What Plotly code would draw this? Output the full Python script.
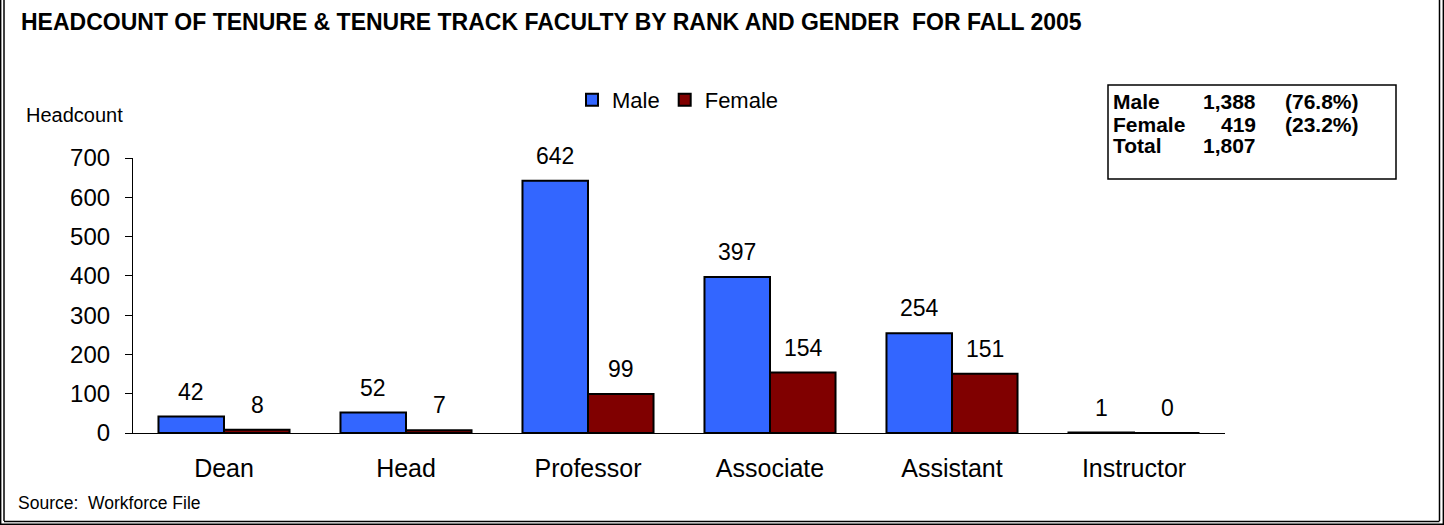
import plotly.graph_objects as go

categories = ["Dean", "Head", "Professor", "Associate", "Assistant", "Instructor"]
male = [42, 52, 642, 397, 254, 1]
female = [8, 7, 99, 154, 151, 0]
y_ticks = [0, 100, 200, 300, 400, 500, 600, 700]

summary_rows = [
    ("Male", "1,388", "(76.8%)"),
    ("Female", "419", "(23.2%)"),
    ("Total", "1,807", ""),
]

W, H = 1444, 525
L, R, T, B = 133, 219, 158, 92
PW, PH = W - L - R, H - T - B

def px(x):
    return (x - L) / PW

def py(y):
    return (H - B - y) / PH

FONT = "Liberation Sans, Arial, sans-serif"
fig = go.Figure()
fig.add_trace(go.Bar(name="Male", x=categories, y=male,
                     marker=dict(color="#3366FF", line=dict(color="black", width=2))))
fig.add_trace(go.Bar(name="Female", x=categories, y=female,
                     marker=dict(color="#800000", line=dict(color="black", width=2))))

ann = []
for i, c in enumerate(categories):
    ann.append(dict(x=c, y=male[i], xref="x", yref="y", text=str(male[i]), showarrow=False,
                    xshift=-33, yshift=25, yanchor="middle",
                    font=dict(size=23, color="black", family=FONT)))
    ann.append(dict(x=c, y=female[i], xref="x", yref="y", text=str(female[i]), showarrow=False,
                    xshift=33, yshift=25, yanchor="middle",
                    font=dict(size=23, color="black", family=FONT)))

ann.append(dict(x=px(19), y=py(22), xref="paper", yref="paper", xanchor="left", yanchor="middle",
                text="<b>HEADCOUNT OF TENURE &amp; TENURE TRACK FACULTY BY RANK AND GENDER  FOR FALL 2005</b>",
                showarrow=False, font=dict(size=23, color="black", family=FONT)))
ann.append(dict(x=px(24), y=py(115), xref="paper", yref="paper", xanchor="left", yanchor="middle",
                text="Headcount", showarrow=False, font=dict(size=20, color="black", family=FONT)))
ann.append(dict(x=px(16), y=py(503), xref="paper", yref="paper", xanchor="left", yanchor="middle",
                text="Source:  Workforce File", showarrow=False, font=dict(size=17.5, color="black", family=FONT)))

row_y = [101, 124, 146]
for (lab, num, pct), yy in zip(summary_rows, row_y):
    ann.append(dict(x=px(1111), y=py(yy), xref="paper", yref="paper", xanchor="left", yanchor="middle",
                    text=f"<b>{lab}</b>", showarrow=False, font=dict(size=21, color="black", family=FONT)))
    ann.append(dict(x=px(1258), y=py(yy), xref="paper", yref="paper", xanchor="right", yanchor="middle",
                    text=f"<b>{num}</b>", showarrow=False, font=dict(size=21, color="black", family=FONT)))
    if pct:
        ann.append(dict(x=px(1283), y=py(yy), xref="paper", yref="paper", xanchor="left", yanchor="middle",
                        text=f"<b>{pct}</b>", showarrow=False, font=dict(size=21, color="black", family=FONT)))

def vline(x, y0, y1, w):
    return dict(type="line", xref="paper", yref="paper", x0=px(x), x1=px(x), y0=py(y0), y1=py(y1),
                line=dict(color="black", width=w))

def hline(y, x0, x1, w):
    return dict(type="line", xref="paper", yref="paper", x0=px(x0), x1=px(x1), y0=py(y), y1=py(y),
                line=dict(color="black", width=w))

shapes = [
    dict(type="rect", xref="paper", yref="paper", x0=px(1108), x1=px(1396), y0=py(85), y1=py(179),
         line=dict(color="black", width=1.5), fillcolor="rgba(0,0,0,0)"),
    vline(0.7, 0, H, 1.4), vline(4, 0, 521, 1.5),
    vline(W - 0.7, 0, H, 1.4), vline(W - 4.5, 0, 521, 1.5),
    hline(H - 0.7, 0, W, 1.4), hline(521.5, 4, W - 4.5, 1.5),
]

fig.update_layout(
    width=W, height=H,
    margin=dict(l=L, r=R, t=T, b=B, autoexpand=False),
    paper_bgcolor="white", plot_bgcolor="white",
    barmode="group", bargap=0.28, bargroupgap=0,
    font=dict(family=FONT, color="black"),
    showlegend=True,
    legend=dict(orientation="h", x=px(572), y=py(100), xanchor="left", yanchor="middle",
                font=dict(size=22, family=FONT, color="black"), bgcolor="rgba(0,0,0,0)",
                itemwidth=30, tracegroupgap=0),
    xaxis=dict(showline=True, linecolor="black", linewidth=1.2, ticks="", showgrid=False,
               tickfont=dict(size=25, family=FONT, color="black"), ticklabelstandoff=13),
    yaxis=dict(range=[0, 700], tickvals=y_ticks, showline=True, linecolor="black", linewidth=1.2,
               ticks="outside", ticklen=7, tickcolor="black", showgrid=False, zeroline=False,
               tickfont=dict(size=24, family=FONT, color="black"), ticklabelstandoff=10),
    annotations=ann, shapes=shapes,
)

fig.write_html("out.html", config={"displayModeBar": False},
               post_script="document.body.style.margin='0px';document.body.style.overflow='hidden';")
